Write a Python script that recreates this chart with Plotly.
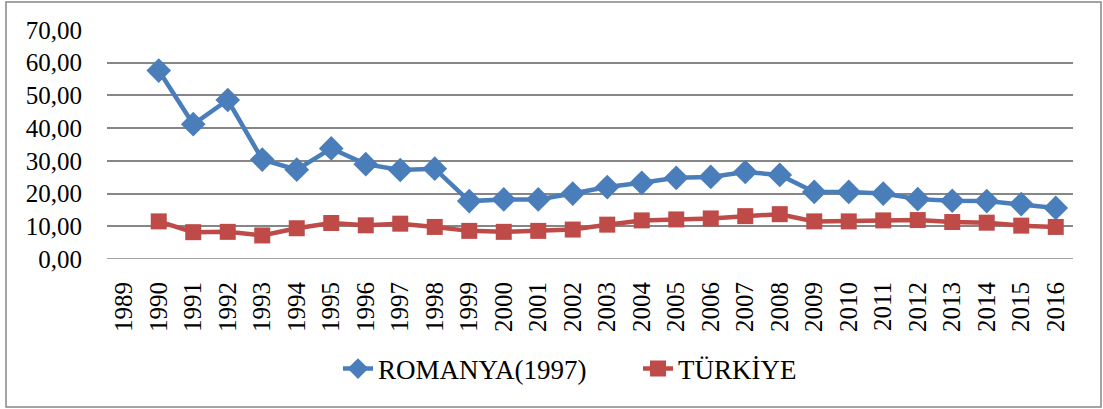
import plotly.graph_objects as go

years = [str(y) for y in range(1989, 2017)]
romanya = [None, 57.6, 41.2, 48.6, 30.4, 27.3, 33.8, 29.0, 27.2, 27.6, 17.7, 18.2, 18.2, 20.0,
           22.0, 23.3, 24.8, 25.1, 26.6, 25.7, 20.5, 20.5, 20.0, 18.3, 17.8, 17.7, 16.8, 15.6]
turkiye = [None, 11.5, 8.2, 8.3, 7.2, 9.4, 11.0, 10.3, 10.8, 9.8, 8.6, 8.3, 8.6, 9.0,
           10.5, 11.8, 12.1, 12.4, 13.1, 13.7, 11.5, 11.5, 11.8, 11.9, 11.3, 11.1, 10.2, 9.8]
y_ticks = [0, 10, 20, 30, 40, 50, 60, 70]

FONT = "Liberation Serif"
W, H = 1103, 409
L, R, T, B = 107, 30, 30, 150
pw, ph = W - L - R, H - T - B

fig = go.Figure()
fig.add_trace(go.Scatter(
    x=years, y=romanya, name="ROMANYA(1997)", mode="lines+markers",
    line=dict(color="#4A7EBB", width=4.5),
    marker=dict(symbol="diamond", size=19, color="#4A7EBB"),
))
fig.add_trace(go.Scatter(
    x=years, y=turkiye, name="TÜRKİYE", mode="lines+markers",
    line=dict(color="#BE4B48", width=4.5),
    marker=dict(symbol="square", size=16, color="#BE4B48"),
))

fig.update_layout(
    width=W, height=H,
    margin=dict(l=L, r=R, t=T, b=B, autoexpand=False),
    paper_bgcolor="white", plot_bgcolor="white",
    separators=",.",
    font=dict(family=FONT, size=25, color="black"),
    showlegend=True,
    legend=dict(orientation="h", x=(338 - L) / pw, xanchor="left", y=(259 - 369) / ph,
                yanchor="middle", font=dict(family=FONT, size=27, color="black"),
                entrywidth=255, entrywidthmode="pixels",
                tracegroupgap=0, bgcolor="rgba(0,0,0,0)"),
    xaxis=dict(type="category", categoryorder="array", categoryarray=years,
               range=[-0.5, len(years) - 0.5], tickangle=-90, showgrid=False,
               showline=False, ticks="", automargin=False,
               ticklabelstandoff=17,
               tickfont=dict(family=FONT, size=25)),
    yaxis=dict(range=[0, 70], tickvals=y_ticks, tickformat=".2f",
               showgrid=True, gridcolor="#868686", gridwidth=1.5,
               zeroline=False, showline=False, ticks="", automargin=False,
               ticklabelstandoff=24,
               tickfont=dict(family=FONT, size=25)),
    shapes=[dict(type="rect", xref="paper", yref="paper",
                 x0=(6 - L) / pw, x1=(1101 - L) / pw,
                 y0=(259 - 407) / ph, y1=(259 - 2) / ph,
                 line=dict(color="#868686", width=1.5), layer="below")],
)
fig.add_shape(type="line", xref="paper", yref="y", x0=0, x1=1, y0=0, y1=0,
              line=dict(color="#868686", width=1.5), layer="below")

fig.write_html("out.html", config={"displayModeBar": False},
               post_script="document.body.style.margin='0px';document.body.style.overflow='hidden';")
